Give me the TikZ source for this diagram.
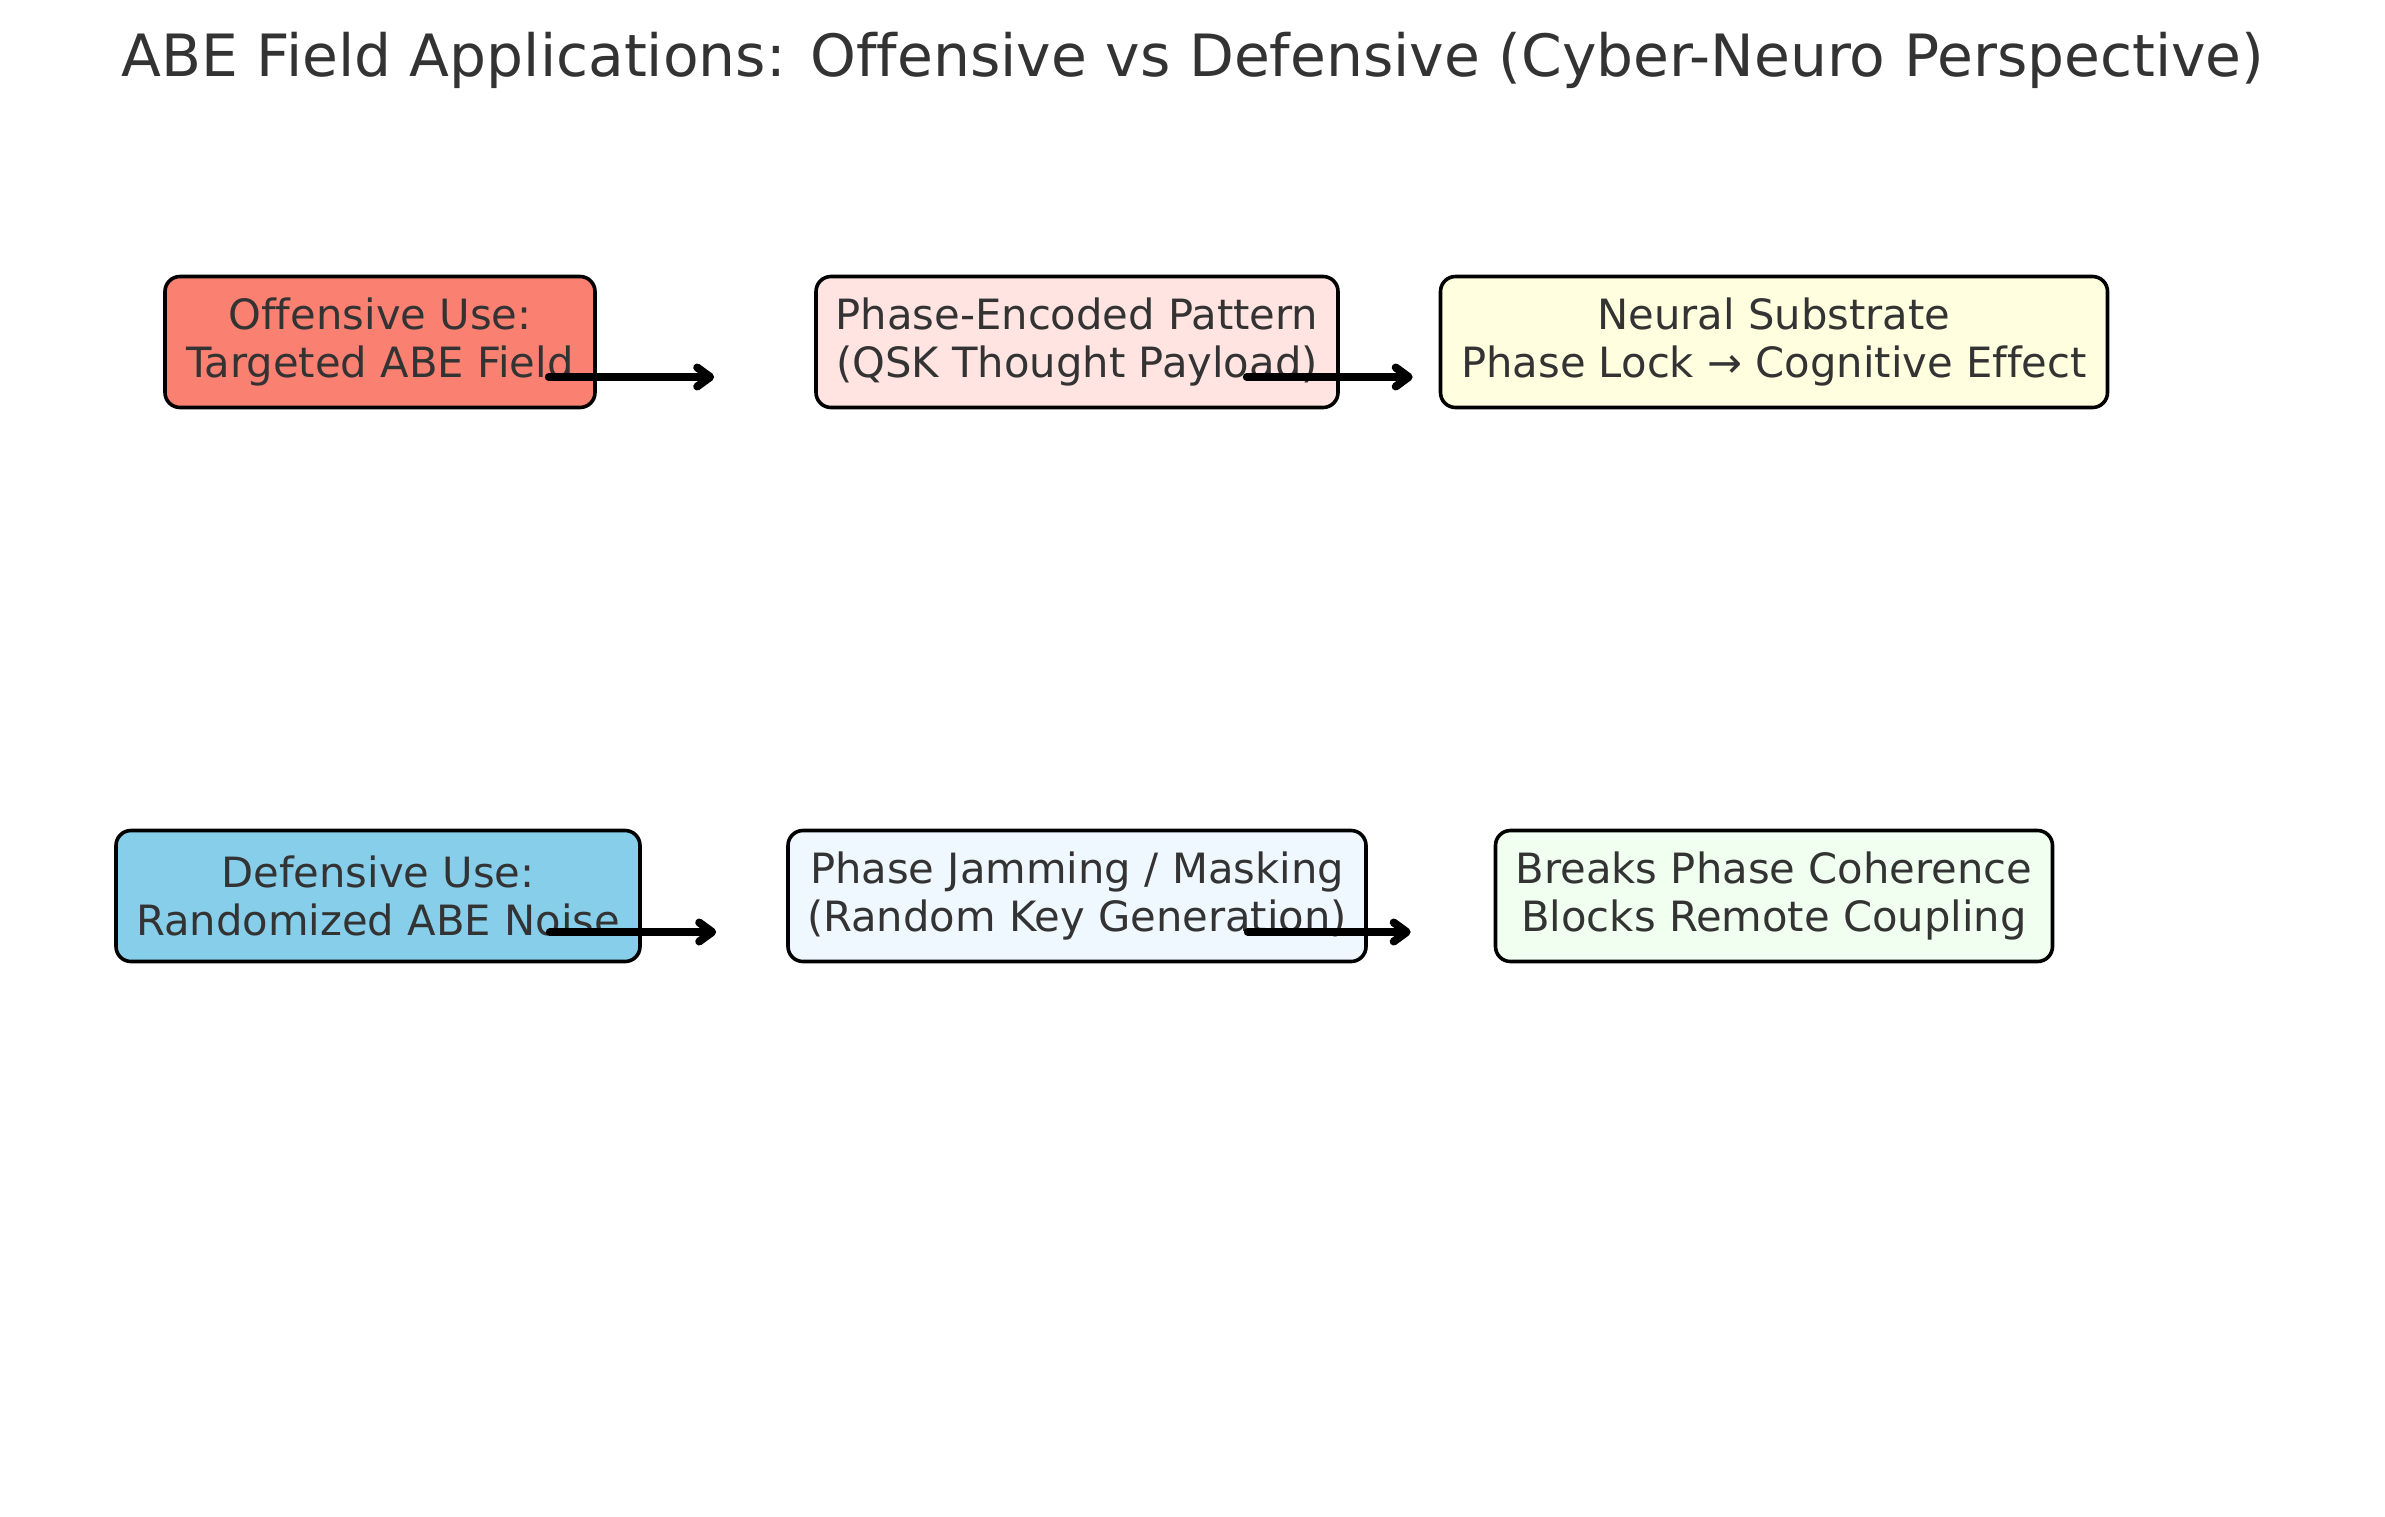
\documentclass[tikz,border=0pt]{standalone}
\usepackage{fontspec}
\setmainfont[Ligatures=NoCommon]{DejaVu Sans}
\usetikzlibrary{arrows.meta}
\definecolor{txt}{HTML}{333333}
\definecolor{salmonc}{HTML}{FA8072}
\definecolor{mistyc}{HTML}{FFE4E1}
\definecolor{lyellowc}{HTML}{FFFFE0}
\definecolor{skyc}{HTML}{87CEEB}
\definecolor{alicec}{HTML}{F0F8FF}
\definecolor{honeyc}{HTML}{F0FFF0}
\tikzset{
  box/.style={draw=black, line width=3.6pt, rounded corners=15pt, inner sep=0pt,
    minimum height=131pt, align=center, text=txt,
    font=\fontsize{41.7}{47.5}\selectfont},
  arr/.style={line width=8pt, line cap=round,
    -{Straight Barb[length=13pt,width=19pt,line cap=round,line join=round]}}
}
\begin{document}
\begin{tikzpicture}[x=1pt,y=-1pt]
\useasboundingbox (0,0) rectangle (2385,1516);
\node[text=txt, font=\fontsize{58.3}{70}\selectfont] (title) at (1193,60)
  {ABE Field Applications: Offensive vs Defensive (Cyber-Neuro Perspective)};
\node[box, fill=salmonc, minimum width=430pt] (o1) at (380,342) {Offensive Use:\\Targeted ABE Field};
\node[box, fill=mistyc, minimum width=522pt] (o2) at (1077,342) {Phase-Encoded Pattern\\(QSK Thought Payload)};
\node[box, fill=lyellowc, minimum width=667pt] (o3) at (1774,342) {Neural Substrate\\Phase Lock → Cognitive Effect};
\node[box, fill=skyc, minimum width=524pt] (d1) at (378,896) {Defensive Use:\\Randomized ABE Noise};
\node[box, fill=alicec, minimum width=578pt] (d2) at (1077,896) {Phase Jamming / Masking\\(Random Key Generation)};
\node[box, fill=honeyc, minimum width=557pt] (d3) at (1774,896) {Breaks Phase Coherence\\Blocks Remote Coupling};
\draw[arr] ([xshift=-48pt,yshift=-35pt]o1.east) -- ([xshift=-100pt,yshift=-35pt]o2.west);
\draw[arr] ([xshift=-93pt,yshift=-35pt]o2.east) -- ([xshift=-26pt,yshift=-35pt]o3.west);
\draw[arr] ([xshift=-92pt,yshift=-36pt]d1.east) -- ([xshift=-70pt,yshift=-36pt]d2.west);
\draw[arr] ([xshift=-120pt,yshift=-36pt]d2.east) -- ([xshift=-83pt,yshift=-36pt]d3.west);
\end{tikzpicture}
\end{document}
